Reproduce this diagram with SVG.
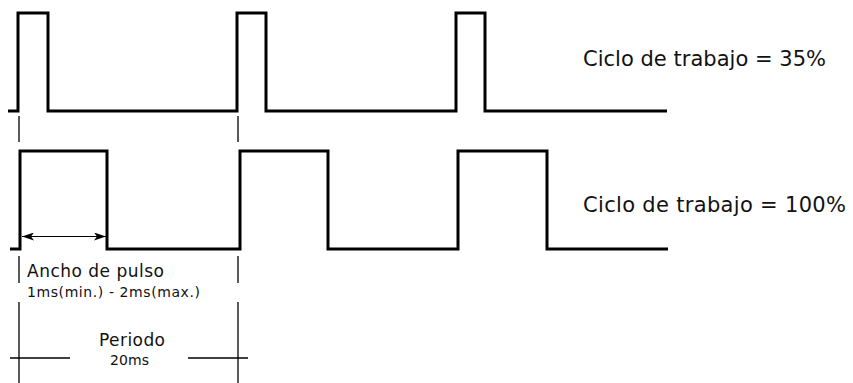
<svg xmlns="http://www.w3.org/2000/svg" width="853" height="383" viewBox="0 0 853 383">
  <defs>
    <style>
      .wave { fill: none; stroke: #000; stroke-width: 3; stroke-linejoin: miter; stroke-linecap: butt; }
      .guide { fill: none; stroke: #000; stroke-width: 1.3; }
      .dim { fill: none; stroke: #000; stroke-width: 1; }
      text { font-family: "DejaVu Sans", Verdana, sans-serif; fill: #111; }
      .big { font-size: 21px; }
      .mid { font-size: 17px; }
      .small { font-size: 14px; }
    </style>
    <marker id="arrowhead" viewBox="0 0 12 8" refX="12" refY="4" markerWidth="12" markerHeight="8" markerUnits="userSpaceOnUse" orient="auto-start-reverse">
      <path d="M0,0 L12,4 L0,8 L3,4 Z" fill="#000"/>
    </marker>
  </defs>

  <!-- 35% duty cycle pulse train -->
  <g id="wave-35">
    <path class="wave" d="M8,111 H18 V13 H48 V111 H237 V13 H266 V111 H456 V13 H485 V111 H667"/>
    <text class="big" x="583" y="66" textLength="243" lengthAdjust="spacing">Ciclo de trabajo = 35%</text>
  </g>

  <!-- 100% duty cycle pulse train -->
  <g id="wave-100">
    <path class="wave" d="M10,249 H20 V151 H107 V249 H240 V151 H328 V249 H458 V151 H547 V249 H668"/>
    <text class="big" x="583" y="212" textLength="263" lengthAdjust="spacing">Ciclo de trabajo = 100%</text>
  </g>

  <!-- pulse width annotation -->
  <g id="pulse-width">
    <text class="mid" x="27" y="277" textLength="137" lengthAdjust="spacing">Ancho de pulso</text>
    <text class="small" x="27" y="297" textLength="173" lengthAdjust="spacing">1ms(min.) - 2ms(max.)</text>
  </g>

  <!-- period annotation -->
  <g id="period">
    <text class="mid" x="99" y="346" textLength="66" lengthAdjust="spacing">Periodo</text>
    <text class="small" x="110" y="365" textLength="39" lengthAdjust="spacing">20ms</text>
  </g>

  <!-- guide lines and dimension arrows -->
  <g id="connectors">
    <line class="guide" x1="19" y1="116" x2="19" y2="142"/>
    <line class="guide" x1="238" y1="116" x2="238" y2="142"/>
    <line class="guide" x1="19" y1="256" x2="19" y2="283"/>
    <line class="guide" x1="238" y1="256" x2="238" y2="283"/>
    <line class="guide" x1="19" y1="302" x2="19" y2="383"/>
    <line class="guide" x1="238" y1="302" x2="238" y2="383"/>
    <line class="guide" x1="10" y1="358" x2="70" y2="358"/>
    <line class="guide" x1="188" y1="358" x2="248" y2="358"/>
    <line class="dim" x1="22" y1="236.5" x2="106" y2="236.5" marker-start="url(#arrowhead)" marker-end="url(#arrowhead)"/>
  </g>
</svg>
